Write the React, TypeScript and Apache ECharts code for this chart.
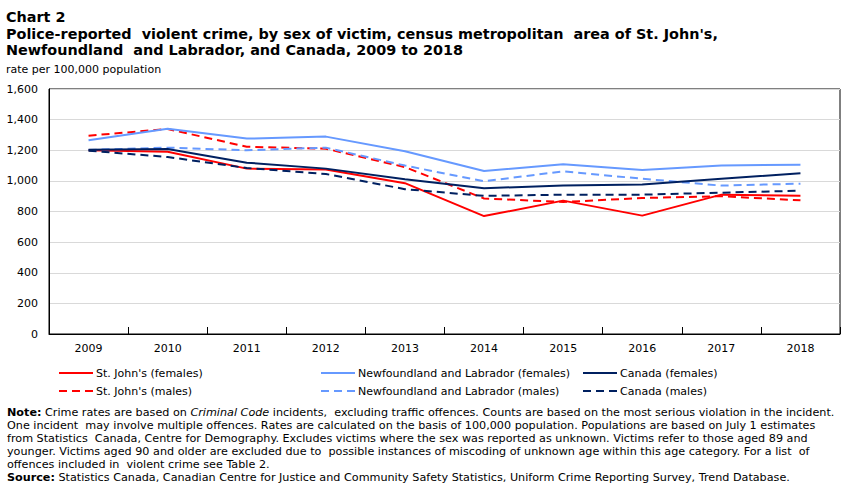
import React, { useEffect, useRef } from "react";
import * as echarts from "echarts";

const years = ["2009", "2010", "2011", "2012", "2013", "2014", "2015", "2016", "2017", "2018"];
const stJohnsFemales = [1200, 1190, 1080, 1075, 985, 770, 871, 773, 910, 903];
const stJohnsMales = [1295, 1339, 1223, 1210, 1090, 885, 862, 888, 900, 873];
const nlFemales = [1265, 1341, 1276, 1289, 1193, 1064, 1108, 1071, 1101, 1106];
const nlMales = [1202, 1217, 1200, 1217, 1100, 997, 1062, 1014, 969, 982];
const canadaFemales = [1204, 1208, 1119, 1080, 1010, 952, 969, 977, 1014, 1049];
const canadaMales = [1197, 1156, 1084, 1045, 946, 902, 910, 910, 923, 936];

const FONT = "DejaVu Sans";
const RED = "#ff0000";
const LIGHT = "#6699ff";
const NAVY = "#002060";

const noteLines = [
  "{b|Note:} Crime rates are based on {i|Criminal Code} incidents,  excluding traffic offences. Counts are based on the most serious violation in the incident.",
  "One incident  may involve multiple offences. Rates are calculated on the basis of 100,000 population. Populations are based on July 1 estimates",
  "from Statistics  Canada, Centre for Demography. Excludes victims where the sex was reported as unknown. Victims refer to those aged 89 and",
  "younger. Victims aged 90 and older are excluded due to  possible instances of miscoding of unknown age within this age category. For a list  of",
  "offences included in  violent crime see Table 2.",
  "{b|Source:} Statistics Canada, Canadian Centre for Justice and Community Safety Statistics, Uniform Crime Reporting Survey, Trend Database.",
];

export default function App() {
  const ref = useRef<HTMLDivElement>(null);
  useEffect(() => {
    if (!ref.current) return;
    const chart = echarts.init(ref.current, undefined, { renderer: "svg" });
    const mk = (name: string, data: number[], color: string, dashed: boolean) => ({
      name,
      type: "line",
      data,
      symbol: "none",
      lineStyle: { color, width: 2, type: dashed ? [8, 5] : "solid" },
      itemStyle: { color },
    });
    const legendBase = {
      orient: "vertical",
      top: 367,
      padding: 0,
      itemWidth: 34,
      itemHeight: 12,
      itemGap: 6,
      itemStyle: { opacity: 0 },
      textStyle: { fontFamily: FONT, fontSize: 11, lineHeight: 12, color: "#000", padding: [0, 0, 0, -2] },
    };
    const textEl = (x: number, baseline: number, text: string, size: number, bold: boolean) => ({
      type: "text",
      x,
      y: baseline - 0.35 * size,
      style: {
        text,
        fontFamily: FONT,
        fontSize: size,
        fontWeight: bold ? "bold" : "normal",
        fill: "#000",
        verticalAlign: "middle",
        rich: {
          b: { fontFamily: FONT, fontSize: size, fontWeight: "bold", fill: "#000", verticalAlign: "middle" },
          i: { fontFamily: FONT, fontSize: size, fontStyle: "italic", fill: "#000", verticalAlign: "middle" },
        },
      },
    });
    chart.setOption({
      animation: false,
      backgroundColor: "#fff",
      grid: {
        left: 49,
        right: 11,
        top: 89,
        bottom: 152,
        show: true,
        borderColor: "#000",
        borderWidth: 1,
        containLabel: false,
      },
      xAxis: {
        type: "category",
        data: years,
        boundaryGap: true,
        axisLine: { lineStyle: { color: "#000", width: 1 } },
        axisTick: { show: true, inside: true, length: 7, lineStyle: { color: "#000" } },
        axisLabel: { fontFamily: FONT, fontSize: 11, color: "#000", margin: 9 },
      },
      yAxis: {
        type: "value",
        min: 0,
        max: 1600,
        interval: 200,
        axisLine: { show: true, lineStyle: { color: "#000" } },
        axisTick: { show: false },
        splitLine: { lineStyle: { color: "#d9d9d9", width: 1 } },
        axisLabel: {
          fontFamily: FONT,
          fontSize: 11,
          color: "#000",
          margin: 11,
          formatter: (v: number) => v.toLocaleString("en-US"),
        },
      },
      legend: [
        { ...legendBase, left: 58, data: ["St. John's (females)", "St. John's (males)"] },
        { ...legendBase, left: 320, data: ["Newfoundland and Labrador (females)", "Newfoundland and Labrador (males)"] },
        { ...legendBase, left: 582, data: ["Canada (females)", "Canada (males)"] },
      ],
      series: [
        mk("St. John's (females)", stJohnsFemales, RED, false),
        mk("St. John's (males)", stJohnsMales, RED, true),
        mk("Newfoundland and Labrador (females)", nlFemales, LIGHT, false),
        mk("Newfoundland and Labrador (males)", nlMales, LIGHT, true),
        mk("Canada (females)", canadaFemales, NAVY, false),
        mk("Canada (males)", canadaMales, NAVY, true),
      ],
      graphic: [
        textEl(6, 22, "Chart 2", 14.4, true),
        textEl(6, 39, "Police-reported  violent crime, by sex of victim, census metropolitan  area of St. John's,", 14.4, true),
        textEl(6, 55, "Newfoundland  and Labrador, and Canada, 2009 to 2018", 14.4, true),
        textEl(6, 73, "rate per 100,000 population", 11, false),
        ...noteLines.map((t, i) => textEl(7, 416 + i * 13, t, 11.2, false)),
      ],
    });
    return () => chart.dispose();
  }, []);
  return <div ref={ref} style={{ width: 851, height: 486, position: "absolute", left: 0, top: 0 }} />;
}
